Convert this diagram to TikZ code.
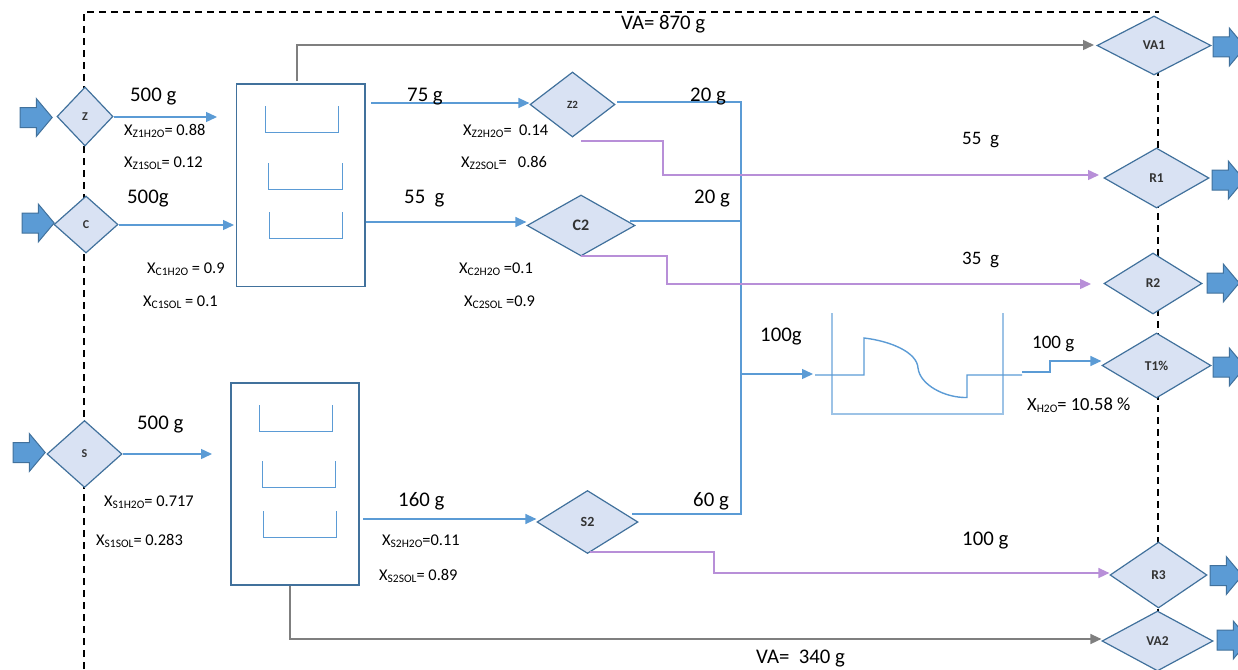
\documentclass[tikz,border=0pt]{standalone}
\usepackage{fontspec}
\setmainfont{Carlito}
\usetikzlibrary{shapes.geometric,shapes.arrows,arrows.meta}
\definecolor{edge}{HTML}{41719C}
\definecolor{fillb}{HTML}{D9E2F3}
\definecolor{flow}{HTML}{5B9BD5}
\definecolor{soft}{HTML}{9DC3E6}
\definecolor{purp}{HTML}{B88FD8}
\definecolor{grayl}{HTML}{7F7F7F}
\newcommand{\Xs}[1]{X\raisebox{-2pt}{\fontsize{11.5}{11.5}\selectfont #1}}
\newcommand{\shaftrule}{\rule{0pt}{19pt}}
\tikzset{
  valve/.style={diamond,draw=edge,fill=fillb,line width=1.2pt,inner sep=0pt,text=black!80,font=\fontsize{13.5}{13.5}\selectfont\bfseries},
  inlet/.style={single arrow,draw=edge,fill=flow,line width=1pt,minimum height=32pt,single arrow head extend=9pt,single arrow tip angle=100,inner sep=0pt},
  vessel/.style={rectangle,draw=edge,fill=white,line width=1.4pt,inner sep=0pt},
  tray/.style={draw=flow,line width=1pt,line join=miter},
  flowb/.style={draw=flow,line width=1.4pt},
  flowp/.style={draw=purp,line width=1.4pt},
  flowg/.style={draw=grayl,line width=1.4pt},
  tipb/.style={-{Triangle[length=11pt,width=10pt,fill=flow]}},
  tipp/.style={-{Triangle[length=11pt,width=10pt,fill=purp]}},
  tipg/.style={-{Triangle[length=11pt,width=10pt,fill=grayl]}},
  big/.style={anchor=west,inner sep=0pt,yshift=-1.5pt,font=\fontsize{20.8}{21}\selectfont},
  mid/.style={anchor=west,inner sep=0pt,yshift=-1.5pt,font=\fontsize{19}{19}\selectfont},
  small/.style={anchor=west,inner sep=0pt,yshift=-1pt,font=\fontsize{16.4}{17}\selectfont},
  frameline/.style={dashed,dash pattern=on 7pt off 5pt,line width=1.5pt,black}
}
\begin{document}
\begin{tikzpicture}[x=1pt,y=-1pt]
\clip (0,0) rectangle (1238,669);
% boundary
\coordinate (fa) at (84,669);
\coordinate (fb) at (84,12);
\coordinate (fc) at (1158,12);
\coordinate (fd) at (1158,669);
\draw[frameline] (fa) -- (fb) -- (fc) -- (fd);
\fill[white] (1150,13.2) rectangle (1166,20);
% valves
\node[valve,minimum width=56pt,minimum height=59pt,font=\fontsize{12}{12}\selectfont\bfseries] (Z) at (85,116.5) {Z};
\node[valve,minimum width=64pt,minimum height=57pt,font=\fontsize{12}{12}\selectfont\bfseries] (C) at (86,224.5) {C};
\node[valve,minimum width=75pt,minimum height=67pt,font=\fontsize{12}{12}\selectfont\bfseries] (S) at (84.5,454) {S};
\node[valve,minimum width=85pt,minimum height=65pt,font=\fontsize{11}{11}\selectfont\bfseries] (Z2) at (572.5,104.5) {Z2};
\node[valve,minimum width=108pt,minimum height=61pt,font=\fontsize{16}{16}\selectfont\bfseries] (C2) at (581,225.5) {C2};
\node[valve,minimum width=101pt,minimum height=63pt,font=\fontsize{14}{14}\selectfont\bfseries] (S2) at (587.5,522) {S2};
\node[valve,minimum width=114pt,minimum height=59pt] (VA1) at (1154,45.5) {VA1};
\node[valve,minimum width=105pt,minimum height=60pt] (R1) at (1156.5,178) {R1};
\node[valve,minimum width=98pt,minimum height=61pt] (R2) at (1153,283.5) {R2};
\node[valve,minimum width=109pt,minimum height=65pt] (T1) at (1156.5,365.5) {T1\%};
\node[valve,minimum width=97pt,minimum height=66pt] (R3) at (1158.5,575) {R3};
\node[valve,minimum width=111pt,minimum height=60pt] (VA2) at (1157.5,641) {VA2};
% block arrows
\node[inlet] (aZ) at (32,117.5) {\shaftrule};
\node[inlet] (aC) at (34,223) {\shaftrule};
\node[inlet] (aS) at (25,452.5) {\shaftrule};
\node[inlet] (oVA1) at (1225,47) {\shaftrule};
\node[inlet] (oR1) at (1224,180) {\shaftrule};
\node[inlet] (oR2) at (1219,283) {\shaftrule};
\node[inlet] (oT1) at (1225,367) {\shaftrule};
\node[inlet] (oR3) at (1222,575.5) {\shaftrule};
\node[inlet] (oVA2) at (1229,640) {\shaftrule};
% evaporators
\node[vessel,minimum width=128.5pt,minimum height=202.5pt] (E1) at (300.75,185.25) {};
\node[vessel,minimum width=128pt,minimum height=202pt] (E2) at (295,484) {};
\draw[tray] (265,106) |- (338,132) -- (338,106);
\draw[tray] (268,163) |- (342,189) -- (342,163);
\draw[tray] (269,212) |- (342.5,238) -- (342.5,212);
\draw[tray] (259,405) |- (332,431) -- (332,405);
\draw[tray] (262,461) |- (335,487) -- (335,461);
\draw[tray] (263,511) |- (336,537) -- (336,511);
% dryer
\coordinate (dIn) at (815,375);
\coordinate (dOut) at (1022,375);
\draw[draw=soft,line width=2.2pt] (832,313) -- (832,414) -- (1003,414) -- (1003,313);
\draw[flowb] (dIn) -- (864,375) -- (864,338)
  .. controls (890,341) and (917,352) .. (918,368)
  .. controls (920,385) and (945,398) .. (967,397.5)
  -- (967,375) -- (dOut);
% feed connectors
\coordinate (zEnd) at (217,117);
\coordinate (cEnd) at (234,225);
\coordinate (sEnd) at (212,454);
\draw[flowb,tipb] (Z.east |- zEnd) -- (zEnd);
\draw[flowb,tipb] (C.east |- cEnd) -- (cEnd);
\draw[flowb,tipb] (S.east |- sEnd) -- (sEnd);
\coordinate (e1a) at (371,103);
\coordinate (e1b) at (366,222);
\coordinate (e2a) at (363,519);
\draw[flowb,tipb] (e1a) -- (e1a -| Z2.west);
\draw[flowb,tipb] (e1b) -- (e1b -| C2.west);
\draw[flowb,tipb] (e2a) -- (e2a -| S2.west);
% condensate collector
\coordinate (bus) at (741,102);
\coordinate (z2o) at (617,102);
\coordinate (c2o) at (630,221);
\coordinate (s2o) at (632,514);
\coordinate (busOut) at (813,374);
\draw[flowb,line join=miter] (z2o) -- (bus) -- (bus |- s2o) -- (s2o);
\draw[flowb] (c2o) -- (bus |- c2o);
\draw[flowb,tipb] (bus |- busOut) -- (busOut);
% dryer outlet
\draw[flowb,tipb] (dOut) ++(0,-3) -- (1050,372) -- (1050,361) -- (T1.west |- 0,361);
% purple flows
\coordinate (z2p) at (581,141);
\coordinate (c2p) at (581,256);
\coordinate (s2p) at (590,552);
\coordinate (r1p) at (1099,175);
\coordinate (r2p) at (1091,284);
\draw[flowp,tipp] (z2p) -- (663,141) -- (663,175) -- (r1p);
\draw[flowp,tipp] (c2p) -- (667,256) -- (667,284) -- (r2p);
\draw[flowp,tipp] (s2p) -- (714,552) -- (714,573) -- (R3.west |- 0,573);
% vapour flows
\coordinate (vo1) at (297,81);
\coordinate (vi1) at (1094,45);
\coordinate (vo2) at (290,586);
\draw[flowg,tipg] (vo1) -- (297,45) -- (vi1);
\draw[flowg,tipg] (vo2) -- (290,639) -- (VA2.west |- 0,639);
% labels
\node[big] (t1) at (130,95) {500 g};
\node[small] (t2) at (124,130) {\Xs{Z1H2O}= 0.88};
\node[small] (t3) at (124,162) {\Xs{Z1SOL}= 0.12};
\node[big] (t4) at (127,197) {500g};
\node[small] (t5) at (147,268) {\Xs{C1H2O} = 0.9};
\node[small] (t6) at (143,301) {\Xs{C1SOL} = 0.1};
\node[big] (t7) at (407,95) {75 g};
\node[small] (t8) at (463,130) {\Xs{Z2H2O}=\ \ 0.14};
\node[small] (t9) at (461,162) {\Xs{Z2SOL}=\ \ \ 0.86};
\node[big] (t10) at (404,197) {55\ \ g};
\node[small] (t11) at (459,268) {\Xs{C2H2O} =0.1};
\node[small] (t12) at (464,301) {\Xs{C2SOL} =0.9};
\node[big] (t13) at (690,95) {20 g};
\node[big] (t14) at (694,197) {20 g};
\node[mid] (t15) at (962,139) {55\ \ g};
\node[mid] (t16) at (962,258) {35\ \ g};
\node[big] (t17) at (760,335) {100g};
\node[mid] (t18) at (1032,342) {100 g};
\node[small,font=\fontsize{18.5}{19}\selectfont] (t19) at (1027,404) {\Xs{H2O}= 10.58 \%};
\node[big] (t20) at (137,423) {500 g};
\node[small] (t21) at (104,501) {\Xs{S1H2O}= 0.717};
\node[small] (t22) at (96,540) {\Xs{S1SOL}= 0.283};
\node[big] (t23) at (398,500) {160 g};
\node[small] (t24) at (382,540) {\Xs{S2H2O}=0.11};
\node[small] (t25) at (379,575) {\Xs{S2SOL}= 0.89};
\node[big] (t26) at (693,500) {60 g};
\node[big] (t27) at (962,539) {100 g};
\node[big] (t28) at (621,23) {VA= 870 g};
\node[big] (t29) at (756,657) {VA=\ \ 340 g};
\end{tikzpicture}
\end{document}
